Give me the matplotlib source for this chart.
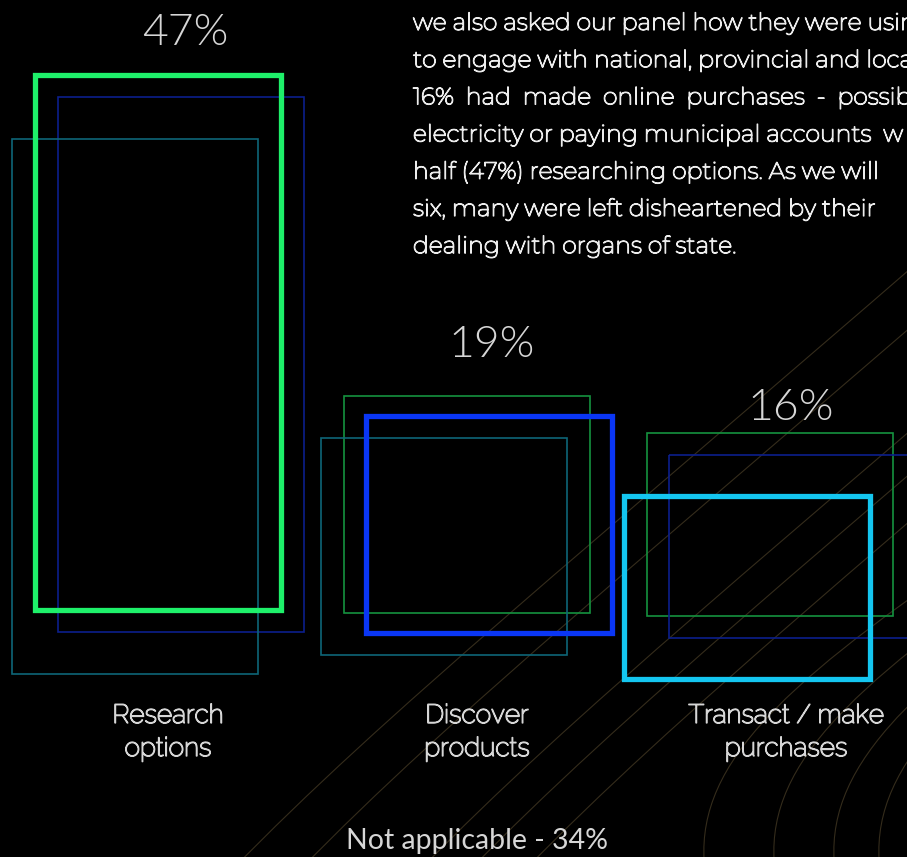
import matplotlib.pyplot as plt
import matplotlib.patheffects as pe
from matplotlib.patches import Rectangle, PathPatch
from matplotlib.path import Path

# survey shares (% of panel) per use of government websites
categories = ["Research\noptions", "Discover\nproducts", "Transact / make\npurchases"]
shares = [47, 19, 16]
not_applicable = 34

body_lines = [
    "we also asked our panel how they were usin",
    "to engage with national, provincial and loca",
    "16%  had  made  online  purchases  -  possib",
    "electricity or paying municipal accounts  w",
    "half (47%) researching options. As we will",
    "six, many were left disheartened by their",
    "dealing with organs of state.",
]

# canvas in pixel units
W, H = 907, 857
PX_PER_PCT = 11.4
BAR_W = 246
bar_left = [35, 366, 624]
bar_mid = [342.5, 524.5, 587.5]
main_colors = ["#1ef06a", "#0a36f5", "#14c6f0"]
# echo frames: (dx, dy, colour) relative to the main frame
echoes = [
    [(23, 22, "#0c1f8c"), (-23, 64, "#0e6578")],
    [(-22, -20, "#15923f"), (-45, 22, "#0e6578")],
    [(23, -63, "#15923f"), (45, -41, "#0c1f8c")],
]
value_xy = [(185, 45), (492, 357), (791, 420)]
label_x = [168, 477, 786]
TXT = "#d6d6d6"


def thicken(col, lw):
    # the variable fonts load at their thinnest instance, so stroke them up
    return [pe.withStroke(linewidth=lw, foreground=col)]


fig = plt.figure(figsize=(W / 100, H / 100), dpi=100, facecolor="black")
ax = fig.add_axes([0, 0, 1, 1])
ax.set_facecolor("black")
ax.set_xlim(0, W)
ax.set_ylim(H, 0)
ax.axis("off")

# faint contour swirls behind the frames
for x0 in [232, 300, 420, 470, 525]:
    verts = [(x0, 870), (x0 + 150, 715), (x0 + 360, 545), (x0 + 700, 250)]
    p = Path(verts, [Path.MOVETO, Path.CURVE4, Path.CURVE4, Path.CURVE4])
    ax.add_patch(PathPatch(p, fill=False, ec="#8a7448", lw=0.8, alpha=0.38, zorder=0))
for x0 in [705, 775, 835, 880]:
    verts = [(x0, 870), (x0 - 12, 770), (x0 + 70, 690), (x0 + 260, 560)]
    p = Path(verts, [Path.MOVETO, Path.CURVE4, Path.CURVE4, Path.CURVE4])
    ax.add_patch(PathPatch(p, fill=False, ec="#8a7448", lw=0.8, alpha=0.38, zorder=0))

for i, share in enumerate(shares):
    h = share * PX_PER_PCT
    top = bar_mid[i] - h / 2
    for dx, dy, col in echoes[i]:
        ax.add_patch(Rectangle((bar_left[i] + dx, top + dy), BAR_W, h,
                               fill=False, ec=col, lw=1.2, zorder=2))
    ax.add_patch(Rectangle((bar_left[i], top), BAR_W, h,
                           fill=False, ec=main_colors[i], lw=3.8, zorder=3))
    vx, vy = value_xy[i]
    ax.text(vx, vy, f"{share}%", color=TXT, fontsize=32, fontfamily="Lato",
            fontweight=300, ha="center", va="baseline")
    ax.text(label_x[i], 756, categories[i], color=TXT, fontsize=19,
            fontfamily="Raleway", ha="center", va="baseline", linespacing=1.45,
            path_effects=thicken(TXT, 1.0))

ax.text(477, 849, f"Not applicable - {not_applicable}%", color=TXT,
        fontsize=20.5, fontfamily="Lato", ha="center", va="baseline")

for j, line in enumerate(body_lines):
    ax.text(413, 30 + j * 37.2, line, color="#ececec", fontsize=17,
            fontfamily="Montserrat", ha="left", va="baseline", zorder=4,
            path_effects=thicken("#ececec", 0.9))

fig.savefig("out.png", dpi=100, facecolor="black")
